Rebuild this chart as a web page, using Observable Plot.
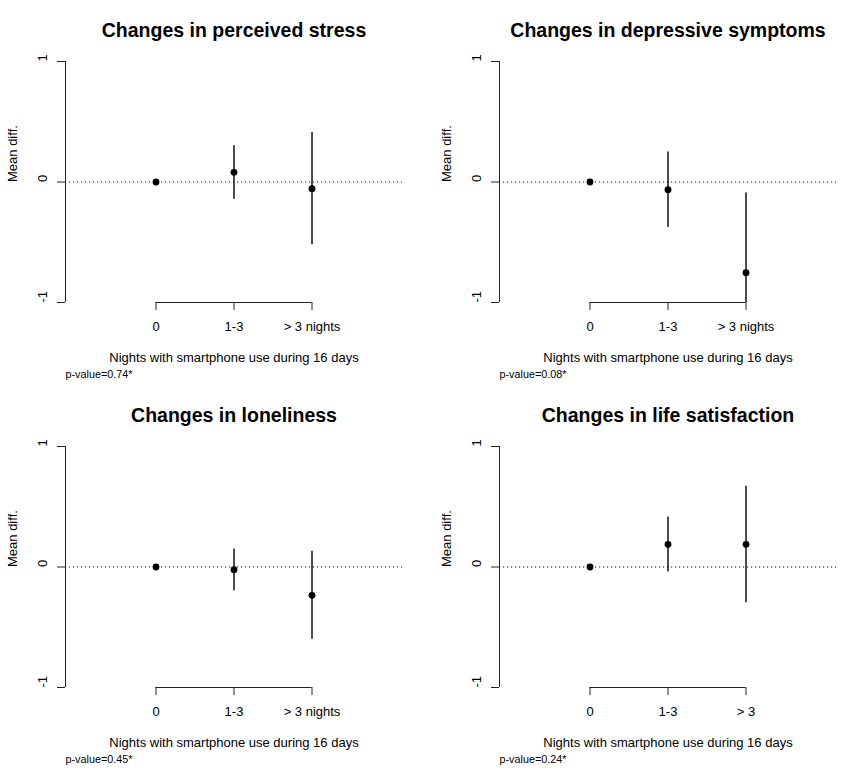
<!DOCTYPE html>
<html>
<head>
<meta charset="utf-8">
<script src="https://cdn.jsdelivr.net/npm/d3@7"></script>
<script src="https://cdn.jsdelivr.net/npm/@observablehq/plot@0.6"></script>
<style>
  html, body { margin: 0; padding: 0; background: #fff; overflow: hidden; }
  #fig { position: relative; width: 842px; height: 771px; background: #fff; }
  #fig > div { position: absolute; }
</style>
</head>
<body>
<div id="fig"></div>
<script>
// ---- data ----
const titles = [
  "Changes in perceived stress",
  "Changes in depressive symptoms",
  "Changes in loneliness",
  "Changes in life satisfaction"
];
const categoryLabels = [
  ["0", "1-3", "> 3 nights"],
  ["0", "1-3", "> 3 nights"],
  ["0", "1-3", "> 3 nights"],
  ["0", "1-3", "> 3"]
];
const means = [
  [0, 0.08, -0.055],
  [0, -0.064, -0.753],
  [0, -0.022, -0.235],
  [0, 0.188, 0.188]
];
const lower = [
  [0, -0.144, -0.52],
  [0, -0.377, -1.0],
  [0, -0.197, -0.60],
  [0, -0.042, -0.296]
];
const upper = [
  [0, 0.30, 0.41],
  [0, 0.25, -0.091],
  [0, 0.15, 0.13],
  [0, 0.415, 0.67]
];
const pValues = ["p-value=0.74*", "p-value=0.08*", "p-value=0.45*", "p-value=0.24*"];
const yTicks = [-1, 0, 1];
const yLabel = "Mean diff.";
const xLabel = "Nights with smartphone use during 16 days";

// ---- layout ----
const xDomain = [-0.16, 4.16];
const panelW = 421, panelH = 385;
const shifts = [0, 13, 0, 13];
const font = "'Liberation Sans', Arial, Helvetica, sans-serif";

function panel(k) {
  const dx = shifts[k];
  const rows = means[k].map((m, i) => ({i: i + 1, mean: m, lo: lower[k][i], hi: upper[k][i]}));
  const bars = rows.filter(d => d.lo !== d.hi);
  return Plot.plot({
    width: panelW,
    height: panelH,
    marginLeft: 65 + dx,
    marginRight: 19 - dx,
    marginTop: 61,
    marginBottom: 83,
    x: {domain: xDomain, axis: null},
    y: {domain: [-1, 1], axis: null},
    style: {fontFamily: font, fontSize: "13px", color: "black", background: "white", overflow: "visible"},
    marks: [
      Plot.ruleY([0], {stroke: "#111", strokeWidth: 1, strokeDasharray: "1.2,2.8"}),
      Plot.ruleX([xDomain[0]], {y1: -1, y2: 1, stroke: "#222", strokeWidth: 1}),
      Plot.axisY({ticks: yTicks, tickSize: 8, tickFormat: () => "", label: null, stroke: "#222"}),
      Plot.text(yTicks, {y: d => d, text: d => String(d), frameAnchor: "left", lineAnchor: "middle", dx: -23, rotate: -90, fontSize: 13, fill: "black"}),
      Plot.ruleY([-1], {x1: 1, x2: 3, stroke: "#222", strokeWidth: 1}),
      Plot.axisX({ticks: [1, 2, 3], tickSize: 8, tickPadding: 11, tickFormat: d => categoryLabels[k][d - 1], label: null, fontSize: 13, stroke: "#222"}),
      Plot.ruleX(bars, {x: "i", y1: "lo", y2: "hi", stroke: "black", strokeWidth: 1.4}),
      Plot.dot(rows, {x: "i", y: "mean", r: 3.4, fill: "black", stroke: "none"}),
      Plot.text([titles[k]], {frameAnchor: "top", lineAnchor: "middle", dy: -31, fontSize: 19.5, fontWeight: "bold", fill: "black"}),
      Plot.text([yLabel], {frameAnchor: "left", lineAnchor: "middle", dx: -53, rotate: -90, fontSize: 13, fill: "black"}),
      Plot.text([xLabel], {frameAnchor: "bottom", lineAnchor: "middle", dy: 55, fontSize: 13, fill: "black"}),
      Plot.text([pValues[k]], {frameAnchor: "bottom-left", lineAnchor: "middle", dy: 72, textAnchor: "start", fontSize: 10.8, fill: "black"})
    ]
  });
}

const fig = document.getElementById("fig");
for (let k = 0; k < 4; k++) {
  const wrap = document.createElement("div");
  wrap.style.left = (k % 2) * panelW + "px";
  wrap.style.top = Math.floor(k / 2) * panelH + "px";
  wrap.appendChild(panel(k));
  fig.appendChild(wrap);
}
</script>
</body>
</html>
